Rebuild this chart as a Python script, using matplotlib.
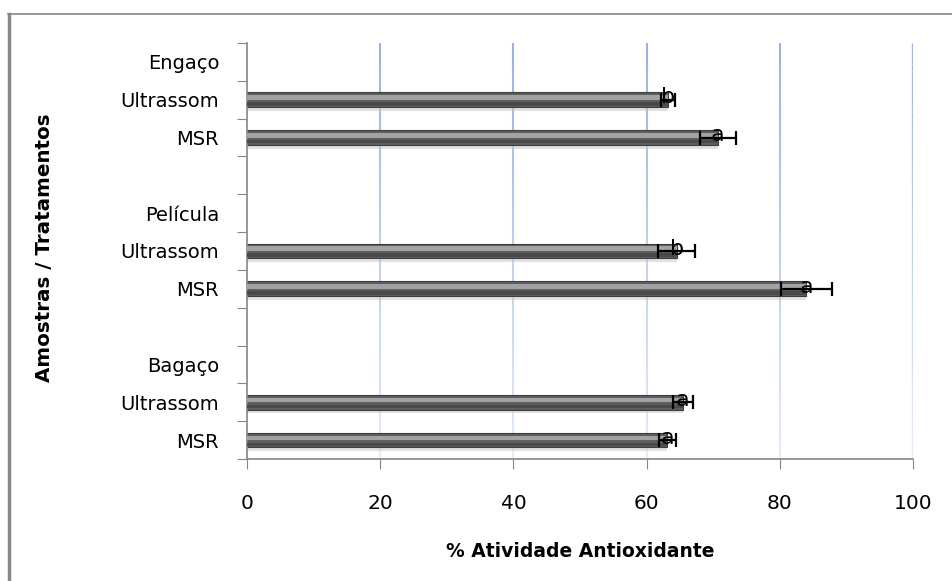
import numpy as np
import matplotlib
matplotlib.use("Agg")
import matplotlib.pyplot as plt
from matplotlib.lines import Line2D
from matplotlib.collections import LineCollection

# rows from bottom to top (Excel style category axis), blank rows separate groups
categories = ['MSR', 'Ultrassom', 'Bagaço', '', 'MSR', 'Ultrassom', 'Película', '',
              'MSR', 'Ultrassom', 'Engaço']
values = [63.1, 65.4, np.nan, np.nan, 84.0, 64.5, np.nan, np.nan, 70.7, 63.2, np.nan]
errors = [1.3, 1.5, np.nan, np.nan, 3.8, 2.8, np.nan, np.nan, 2.7, 1.0, np.nan]
letters = ['a', 'a', '', '', 'a', 'b', '', '', 'a', 'b', '']
xticks = [0, 20, 40, 60, 80, 100]

plt.rcParams['font.family'] = ['DejaVu Sans']

W, H = 953, 581
fig = plt.figure(figsize=(W / 100, H / 100), dpi=100)
ax = fig.add_axes([247 / W, (H - 459) / H, (913 - 247) / W, (459 - 43) / H])

y = np.arange(len(categories))
mask = ~np.isnan(values)
vals = np.array(values)[mask]
errs = np.array(errors)[mask]
ys = y[mask]
ymin, ymax = -0.5, len(categories) - 0.5

# vertical gridlines, fading towards the bottom like the original
n = 60
edges = np.linspace(ymin, ymax, n + 1)
for xv in xticks[1:]:
    segs = [[(xv, edges[i]), (xv, edges[i + 1])] for i in range(n)]
    alphas = np.linspace(0.25, 1.0, n)
    cols = [(0.60, 0.70, 0.89, a) for a in alphas]
    ax.add_collection(LineCollection(segs, colors=cols, lw=2.4 if xv == 100 else 1.5,
                                     zorder=0))

# shadow, bar, highlight
ax.barh(ys - 0.1, vals, height=0.38, color='#c4c4c4', alpha=0.5, zorder=1, lw=0)
ax.barh(ys, vals, height=0.39, color='#5e5e5e', edgecolor='#3e3e3e', lw=0.8, zorder=2)
ax.barh(ys + 0.06, vals, height=0.12, color='#a2a2a2', lw=0, zorder=3)
ax.barh(ys - 0.11, vals, height=0.09, color='#4a4a4a', lw=0, zorder=3)

ax.errorbar(vals, ys, xerr=errs, fmt='none', ecolor='black', elinewidth=1.6,
            capsize=5, capthick=1.6, zorder=5)
for v, yy, lt in zip(vals, ys, np.array(letters)[mask]):
    ax.text(v, yy + 0.06, lt, ha='center', va='center', fontsize=16, zorder=6)

ax.set_xlim(0, 100)
ax.set_ylim(ymin, ymax)
ax.set_xticks(xticks)
ax.set_xticklabels([str(t) for t in xticks], fontsize=14.5)
ax.tick_params(axis='x', direction='out', length=7, color='#868686', pad=18)

# y ticks at category boundaries, labels at centres
ax.set_yticks(np.arange(len(categories) + 1) - 0.5)
ax.set_yticklabels([])
ax.set_yticks(y, minor=True)
ax.set_yticklabels(categories, minor=True, fontsize=14)
ax.tick_params(axis='y', which='major', direction='out', length=7, color='#868686')
ax.tick_params(axis='y', which='minor', length=0, pad=20)

for s in ['top', 'right']:
    ax.spines[s].set_visible(False)
for s in ['left', 'bottom']:
    ax.spines[s].set_color('#868686')
    ax.spines[s].set_linewidth(1.2)

ax.set_xlabel('% Atividade Antioxidante', fontsize=13.5, fontweight='bold', labelpad=21)
fig.text(45 / W, 1 - 248 / H, 'Amostras / Tratamentos', rotation=90, fontsize=14.3,
         fontweight='bold', ha='center', va='center')

# outer chart border (left and top only visible)
fig.add_artist(Line2D([9 / W, 9 / W], [0, 1 - 14 / H], color='#868686', lw=2.5,
                      transform=fig.transFigure))
fig.add_artist(Line2D([8 / W, 1], [1 - 14 / H, 1 - 14 / H], color='#868686', lw=1.2,
                      transform=fig.transFigure))

fig.savefig('out.png', dpi=100)
